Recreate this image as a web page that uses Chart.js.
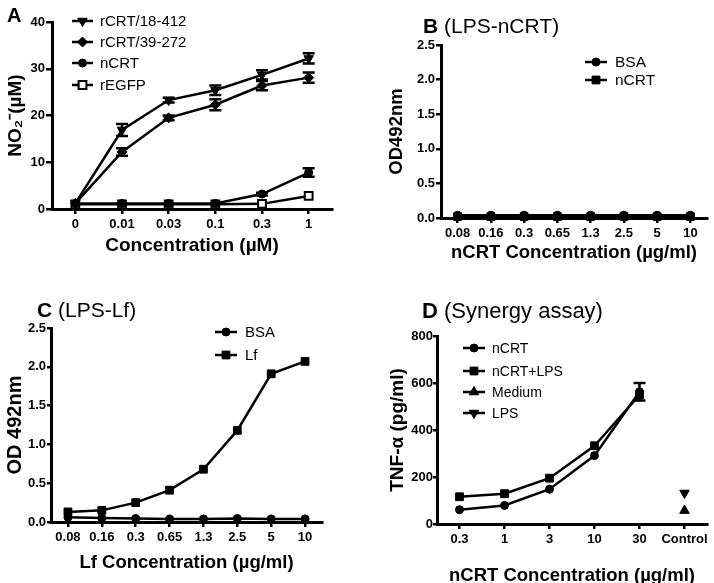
<!DOCTYPE html>
<html><head><meta charset="utf-8">
<script src="https://cdn.jsdelivr.net/npm/chart.js@4/dist/chart.umd.min.js"></script>
<style>
html,body{margin:0;padding:0;background:#fff;}
body{width:714px;height:583px;overflow:hidden;position:relative;font-family:'Liberation Sans',Arial,sans-serif;}
canvas{position:absolute;}
.t{position:absolute;font-size:21px;line-height:21px;white-space:nowrap;color:#000;z-index:2;}
.t b{font-weight:bold;}
</style></head><body>
<canvas id="cA" width="357" height="290" style="left:0;top:0"></canvas>
<canvas id="cB" width="357" height="290" style="left:357px;top:0"></canvas>
<canvas id="cC" width="357" height="293" style="left:0;top:290px"></canvas>
<canvas id="cD" width="357" height="300" style="left:357px;top:290px"></canvas>
<div class="t" style="left:7px;top:5px;font-size:20px;line-height:20px"><b>A</b></div>
<div class="t" style="left:423px;top:15px"><b>B</b> (LPS-nCRT)</div>
<div class="t" style="left:37px;top:299px"><b>C</b> (LPS-Lf)</div>
<div class="t" style="left:422px;top:300px;font-size:22px;line-height:22px"><b>D</b> (Synergy assay)</div>
<script>
// ---------- Panel A data ----------
const catsA = ['0','0.01','0.03','0.1','0.3','1'];
const rCRT18 = [1.2, 16.9, 23.3, 25.4, 28.7, 32.2];
const rCRT18Err = [0, 1.3, 0.5, 1.0, 1.0, 1.1];
const rCRT39 = [1.2, 12.2, 19.5, 22.3, 26.4, 28.1];
const rCRT39Err = [0, 0.8, 0.5, 1.2, 1.0, 1.1];
const nCRTA = [1.2, 1.2, 1.2, 1.2, 3.2, 7.8];
const nCRTAErr = [0, 0, 0, 0, 0.3, 0.9];
const rEGFP = [1.0, 1.0, 1.0, 1.0, 1.1, 2.8];
const yTicksA = [0, 10, 20, 30, 40];
const yLabelsA = ['0', '10', '20', '30', '40'];
// ---------- Panel B data ----------
const catsB = ['0.08','0.16','0.3','0.65','1.3','2.5','5','10'];
const bsaB = [0.04, 0.04, 0.04, 0.04, 0.04, 0.04, 0.04, 0.04];
const nCRTB = [0.02, 0.02, 0.02, 0.02, 0.02, 0.02, 0.02, 0.02];
const yTicksBC = [0, 0.5, 1.0, 1.5, 2.0, 2.5];
const yLabelsBC = ['0.0', '0.5', '1.0', '1.5', '2.0', '2.5'];
// ---------- Panel C data ----------
const catsC = ['0.08','0.16','0.3','0.65','1.3','2.5','5','10'];
const bsaC = [0.06, 0.05, 0.045, 0.04, 0.04, 0.045, 0.04, 0.04];
const lfC = [0.13, 0.15, 0.25, 0.41, 0.68, 1.18, 1.91, 2.07];
// ---------- Panel D data ----------
const catsD = ['0.3','1','3','10','30','Control'];
const nCRTD = [61, 79, 148, 291, 563, null];
const nCRTDErr = [0, 0, 0, 0, 37, 0];
const nCRTLPSD = [116, 129, 195, 333, 549, null];
const mediumD = [null, null, null, null, null, 57];
const lpsD = [null, null, null, null, null, 132];
const yTicksD = [0, 200, 400, 600, 800];
const yLabelsD = ['0', '200', '400', '600', '800'];

const F = "'Liberation Sans', Arial, sans-serif";

function drawMark(ctx, style, x, y, r, rot, fill, bw) {
  ctx.save();
  ctx.fillStyle = fill; ctx.strokeStyle = '#000'; ctx.lineWidth = bw;
  ctx.beginPath();
  if (style === 'circle') ctx.arc(x, y, r, 0, Math.PI * 2);
  else if (style === 'rect') { const s = r * Math.SQRT1_2; ctx.rect(x - s, y - s, 2 * s, 2 * s); }
  else if (style === 'rectRot') { ctx.moveTo(x - r, y); ctx.lineTo(x, y - r); ctx.lineTo(x + r, y); ctx.lineTo(x, y + r); ctx.closePath(); }
  else if (style === 'triangle') {
    let a = (rot || 0) * Math.PI / 180;
    ctx.moveTo(x + Math.sin(a) * r, y - Math.cos(a) * r); a += 2 * Math.PI / 3;
    ctx.lineTo(x + Math.sin(a) * r, y - Math.cos(a) * r); a += 2 * Math.PI / 3;
    ctx.lineTo(x + Math.sin(a) * r, y - Math.cos(a) * r); ctx.closePath();
  }
  ctx.fill(); ctx.stroke(); ctx.restore();
}

const legendPlugin = {
  id: 'lg',
  afterDraw(chart, args, o) {
    if (!o || !o.ys) return;
    const ctx = chart.ctx;
    chart.data.datasets.forEach((ds, i) => {
      const y = o.ys[i];
      ctx.save();
      ctx.strokeStyle = '#000'; ctx.lineWidth = 2.5;
      ctx.beginPath(); ctx.moveTo(o.x1, y); ctx.lineTo(o.x2, y); ctx.stroke();
      drawMark(ctx, ds.pointStyle, (o.x1 + o.x2) / 2, y, ds.pointRadius, ds.pointRotation || 0, ds.pointBackgroundColor, ds.pointBorderWidth);
      ctx.fillStyle = '#000'; ctx.font = o.font; ctx.textBaseline = 'middle'; ctx.textAlign = 'left';
      ctx.fillText(ds.label, o.tx, y + 1);
      ctx.restore();
    });
  }
};

const errPlugin = {
  id: 'err',
  afterDatasetsDraw(chart) {
    const ctx = chart.ctx, ys = chart.scales.y;
    chart.data.datasets.forEach((ds, i) => {
      if (!ds.errors) return;
      const meta = chart.getDatasetMeta(i);
      meta.data.forEach((pt, j) => {
        const e = ds.errors[j];
        if (!e || ds.data[j] == null) return;
        const v = ds.data[j];
        const yt = ys.getPixelForValue(v + e), yb = ys.getPixelForValue(v - e);
        ctx.save(); ctx.strokeStyle = '#000'; ctx.lineWidth = 2.5;
        ctx.beginPath();
        ctx.moveTo(pt.x, yt); ctx.lineTo(pt.x, yb);
        ctx.moveTo(pt.x - 6, yt); ctx.lineTo(pt.x + 6, yt);
        ctx.moveTo(pt.x - 6, yb); ctx.lineTo(pt.x + 6, yb);
        ctx.stroke(); ctx.restore();
      });
    });
  }
};

function ds(label, data, style, r, opts) {
  return Object.assign({
    label, data, pointStyle: style, pointRadius: r, pointHoverRadius: r,
    pointBackgroundColor: '#000', pointBorderColor: '#000', pointBorderWidth: 1,
    borderColor: '#000', backgroundColor: '#000', borderWidth: 2.5, tension: 0, clip: false, fill: false
  }, opts || {});
}

function xAxis(title, tsize, tpb, h, tickSize, tickPad) {
  return {
    type: 'category', offset: true,
    grid: { display: true, drawOnChartArea: false, drawTicks: true, tickLength: 5, color: '#000', lineWidth: 2.5 },
    border: { display: true, color: '#000', width: 3 },
    ticks: { color: '#000', font: { family: F, size: tickSize, weight: 'bold' }, padding: tickPad, maxRotation: 0, minRotation: 0, autoSkip: false },
    title: { display: true, text: title, color: '#000', font: { family: F, size: tsize, weight: 'bold' }, padding: { top: 0, bottom: tpb } },
    afterFit(s) { s.height = h; }
  };
}
function yAxis(min, max, tks, lbls, title, tsize, tpt, w, tickSize, tickPad, tl) {
  return {
    type: 'linear', min, max,
    afterBuildTicks(s) { s.ticks = tks.map(v => ({ value: v })); },
    grid: { display: true, drawOnChartArea: false, drawTicks: true, tickLength: tl, color: '#000', lineWidth: 2.5 },
    border: { display: true, color: '#000', width: 3 },
    ticks: { color: '#000', font: { family: F, size: tickSize, weight: 'bold' }, padding: tickPad, callback: (v, i) => lbls[i] },
    title: { display: true, text: title, color: '#000', font: { family: F, size: tsize, weight: 'bold' }, padding: { top: tpt, bottom: 0 } },
    afterFit(s) { s.width = w; }
  };
}
function baseOpts(pad, scales, legend) {
  return {
    responsive: false, animation: false, devicePixelRatio: 1,
    layout: { padding: pad },
    plugins: { legend: { display: false }, tooltip: { enabled: false }, lg: legend },
    scales
  };
}

// Panel A
new Chart(document.getElementById('cA'), {
  type: 'line',
  data: { labels: catsA, datasets: [
    ds('rCRT/18-412', rCRT18, 'triangle', 5.5, { pointRotation: 180, errors: rCRT18Err }),
    ds('rCRT/39-272', rCRT39, 'rectRot', 5, { errors: rCRT39Err }),
    ds('nCRT', nCRTA, 'circle', 4, { errors: nCRTAErr }),
    ds('rEGFP', rEGFP, 'rect', 5.5, { pointBackgroundColor: '#fff', pointBorderWidth: 2 })
  ]},
  options: baseOpts({ left: 0, top: 22, right: 25, bottom: 0 }, {
    x: xAxis('Concentration (µM)', 19, 33, 81, 13, 3),
    y: yAxis(0, 40, yTicksA, yLabelsA, 'NO₂⁻(µM)', 19, 4, 52, 13, 1, 6)
  }, { x1: 72, x2: 93, tx: 100, ys: [21, 42, 63, 85], font: '15px ' + F }),
  plugins: [errPlugin, legendPlugin]
});

// Panel B
new Chart(document.getElementById('cB'), {
  type: 'line',
  data: { labels: catsB, datasets: [
    ds('BSA', bsaB, 'circle', 4),
    ds('nCRT', nCRTB, 'rect', 5.5)
  ]},
  options: baseOpts({ left: 0, top: 45, right: 7, bottom: 0 }, {
    x: xAxis('nCRT Concentration (µg/ml)', 18.5, 26, 72, 13, 3),
    y: yAxis(0, 2.5, yTicksBC, yLabelsBC, 'OD492nm', 18.5, 29, 84, 13, 1, 5)
  }, { x1: 228, x2: 250, tx: 258, ys: [62, 80], font: '15.5px ' + F }),
  plugins: [legendPlugin]
});

// Panel C
new Chart(document.getElementById('cC'), {
  type: 'line',
  data: { labels: catsC, datasets: [
    ds('BSA', bsaC, 'circle', 4),
    ds('Lf', lfC, 'rect', 5.5)
  ]},
  options: baseOpts({ left: 0, top: 38, right: 35, bottom: 0 }, {
    x: xAxis('Lf Concentration (µg/ml)', 18.5, 9, 61, 13, 3),
    y: yAxis(0, 2.5, yTicksBC, yLabelsBC, 'OD 492nm', 20, 3, 51, 13, 1, 4)
  }, { x1: 215, x2: 237, tx: 245, ys: [42, 65], font: '15px ' + F }),
  plugins: [legendPlugin]
});

// Panel D
new Chart(document.getElementById('cD'), {
  type: 'line',
  data: { labels: catsD, datasets: [
    ds('nCRT', nCRTD, 'circle', 4, { errors: nCRTDErr }),
    ds('nCRT+LPS', nCRTLPSD, 'rect', 5.5),
    ds('Medium', mediumD, 'triangle', 5.5),
    ds('LPS', lpsD, 'triangle', 5.5, { pointRotation: 180 })
  ]},
  options: baseOpts({ left: 0, top: 46, right: 7, bottom: 0 }, {
    x: xAxis('nCRT Concentration (µg/ml)', 18.5, 3, 66, 13, 3),
    y: yAxis(0, 800, yTicksD, yLabelsD, 'TNF-α (pg/ml)', 19, 29, 80, 13, 0, 4)
  }, { x1: 106, x2: 128, tx: 135, ys: [58, 81, 102, 123], font: '14px ' + F }),
  plugins: [errPlugin, legendPlugin]
});
</script>
</body></html>
